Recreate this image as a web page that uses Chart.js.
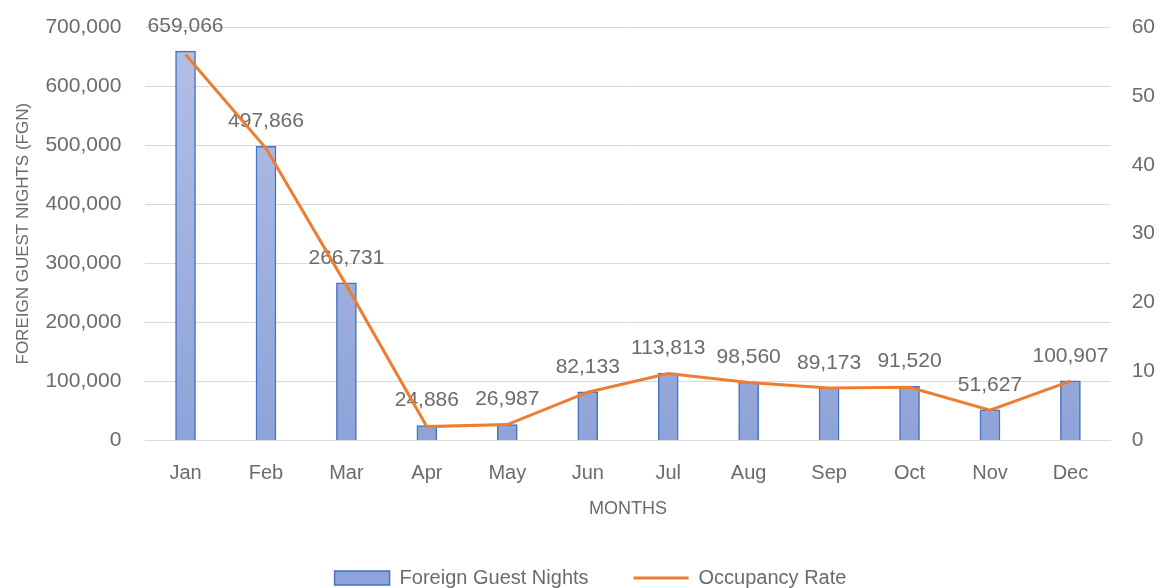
<!DOCTYPE html>
<html>
<head>
<meta charset="utf-8">
<script src="https://cdn.jsdelivr.net/npm/chart.js@4.4.1/dist/chart.umd.min.js"></script>
<style>
  html, body { margin: 0; padding: 0; background: #fff; }
  #wrap { width: 1165px; height: 588px; }
</style>
</head>
<body>
<div id="wrap"><canvas id="chart" width="1165" height="588"></canvas></div>
<script>
const months = ['Jan', 'Feb', 'Mar', 'Apr', 'May', 'Jun', 'Jul', 'Aug', 'Sep', 'Oct', 'Nov', 'Dec'];
const guestNights = [659066, 497866, 266731, 24886, 26987, 82133, 113813, 98560, 89173, 91520, 51627, 100907];
const occupancyRate = [56.0, 42.4, 22.5, 2.0, 2.3, 7.0, 9.7, 8.4, 7.6, 7.7, 4.4, 8.6];

const textGrey = '#6b6b6b';
const fontFamily = '"Liberation Sans", Arial, sans-serif';

function barGradient(context) {
    const chart = context.chart;
    const area = chart.chartArea;
    if (!area) return '#a3b3e0';
    const g = chart.ctx.createLinearGradient(0, area.top, 0, area.bottom);
    g.addColorStop(0, '#b3c0e8');
    g.addColorStop(1, '#8ea3d8');
    return g;
}

// numbers over the bars
const barLabels = {
    id: 'barLabels',
    afterDatasetDraw(chart, args) {
        if (args.index !== 0) return;
        const ctx = chart.ctx;
        ctx.save();
        ctx.font = '21px ' + fontFamily;
        ctx.fillStyle = textGrey;
        ctx.textAlign = 'center';
        ctx.textBaseline = 'middle';
        args.meta.data.forEach((bar, i) => {
            ctx.fillText(guestNights[i].toLocaleString('en-US'), bar.x, bar.y - 25);
        });
        ctx.restore();
    }
};

new Chart(document.getElementById('chart'), {
    data: {
        labels: months,
        datasets: [
            {
                type: 'bar',
                label: 'Foreign Guest Nights',
                data: guestNights,
                yAxisID: 'y',
                backgroundColor: barGradient,
                borderColor: '#4472c4',
                borderWidth: 1.5,
                barThickness: 20,
                order: 1,
                pointStyle: 'rect'
            },
            {
                type: 'line',
                label: 'Occupancy Rate',
                data: occupancyRate,
                yAxisID: 'y1',
                borderColor: '#ed7d31',
                backgroundColor: '#ed7d31',
                borderWidth: 3,
                pointRadius: 0,
                tension: 0,
                order: 0,
                pointStyle: 'line'
            }
        ]
    },
    options: {
        responsive: false,
        animation: false,
        devicePixelRatio: 1,
        layout: { padding: { top: 27, right: -3, left: 13, bottom: -10 } },
        plugins: {
            tooltip: { enabled: false },
            legend: {
                position: 'bottom',
                labels: {
                    usePointStyle: true,
                    pointStyleWidth: 55,
                    boxHeight: 14,
                    padding: 45,
                    color: textGrey,
                    font: { family: fontFamily, size: 20 },
                    sort: (a, b) => a.datasetIndex - b.datasetIndex
                }
            }
        },
        scales: {
            x: {
                grid: { display: false },
                border: { color: '#d9d9d9' },
                ticks: { color: textGrey, font: { family: fontFamily, size: 20 }, padding: 13 },
                title: {
                    display: true,
                    text: 'MONTHS',
                    color: textGrey,
                    font: { family: fontFamily, size: 18 },
                    padding: { top: 0, bottom: 3 }
                }
            },
            y: {
                position: 'left',
                min: 0,
                max: 700000,
                // tick padding would otherwise push the plot top down
                afterFit: s => { s.paddingTop = 10; s.paddingBottom = 10; },
                ticks: {
                    stepSize: 100000,
                    color: textGrey,
                    font: { family: fontFamily, size: 21 },
                    padding: 24,
                    callback: v => v.toLocaleString('en-US')
                },
                grid: { color: '#d9d9d9', drawTicks: false },
                border: { display: false },
                title: {
                    display: true,
                    text: 'FOREIGN GUEST NIGHTS (FGN)',
                    color: textGrey,
                    font: { family: fontFamily, size: 17 },
                    padding: { top: 0, bottom: -12 }
                }
            },
            y1: {
                position: 'right',
                min: 0,
                max: 60,
                afterFit: s => { s.paddingTop = 10; s.paddingBottom = 10; },
                ticks: {
                    stepSize: 10,
                    color: textGrey,
                    font: { family: fontFamily, size: 21 },
                    padding: 13
                },
                grid: { display: false },
                border: { display: false }
            }
        }
    },
    plugins: [barLabels]
});
</script>
</body>
</html>
